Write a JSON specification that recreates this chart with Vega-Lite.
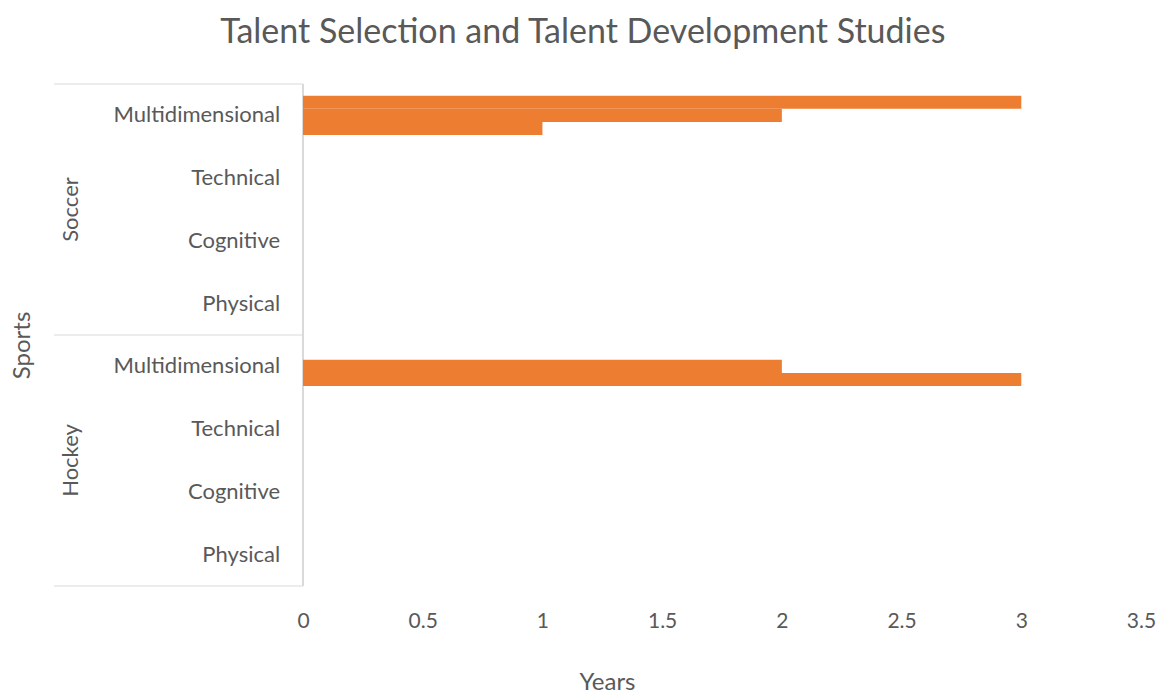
{
  "$schema": "https://vega.github.io/schema/vega-lite/v6.json",
  "padding": {"left": 10, "top": 15, "right": 5, "bottom": 0},
  "background": "white",
  "bounds": "flush",
  "datasets": {
    "categories": [
      {"sport": "Soccer", "type": "Multidimensional", "key": "Soccer|Multidimensional"},
      {"sport": "Soccer", "type": "Technical", "key": "Soccer|Technical"},
      {"sport": "Soccer", "type": "Cognitive", "key": "Soccer|Cognitive"},
      {"sport": "Soccer", "type": "Physical", "key": "Soccer|Physical"},
      {"sport": "Hockey", "type": "Multidimensional", "key": "Hockey|Multidimensional"},
      {"sport": "Hockey", "type": "Technical", "key": "Hockey|Technical"},
      {"sport": "Hockey", "type": "Cognitive", "key": "Hockey|Cognitive"},
      {"sport": "Hockey", "type": "Physical", "key": "Hockey|Physical"}
    ],
    "studies": [
      {"sport": "Soccer", "type": "Multidimensional", "key": "Soccer|Multidimensional", "series": "Series A", "years": 3},
      {"sport": "Soccer", "type": "Multidimensional", "key": "Soccer|Multidimensional", "series": "Series B", "years": 2},
      {"sport": "Soccer", "type": "Multidimensional", "key": "Soccer|Multidimensional", "series": "Series C", "years": 1},
      {"sport": "Hockey", "type": "Multidimensional", "key": "Hockey|Multidimensional", "series": "Series B", "years": 2},
      {"sport": "Hockey", "type": "Multidimensional", "key": "Hockey|Multidimensional", "series": "Series C", "years": 3}
    ]
  },
  "title": {
    "text": "Talent Selection and Talent Development Studies",
    "font": "Lato",
    "fontSize": 34,
    "fontWeight": "normal",
    "color": "#595959",
    "anchor": "middle",
    "frame": "bounds",
    "offset": 34
  },
  "spacing": 0,
  "resolve": {"scale": {"y": "independent", "x": "independent"}},
  "hconcat": [
    {
      "width": 249,
      "height": 502,
      "data": {"name": "categories"},
      "layer": [
        {
          "transform": [{"filter": "datum.type === 'Multidimensional'"}],
          "mark": {"type": "rule", "color": "#d9d9d9", "strokeWidth": 1},
          "encoding": {
            "y": {
              "field": "key",
              "type": "nominal",
              "bandPosition": 0,
              "scale": {
                "domain": ["Soccer|Multidimensional", "Soccer|Technical", "Soccer|Cognitive", "Soccer|Physical", "Hockey|Multidimensional", "Hockey|Technical", "Hockey|Cognitive", "Hockey|Physical"],
                "paddingInner": 0,
                "paddingOuter": 0
              },
              "axis": {
                "title": "Sports",
                "labels": false,
                "ticks": false,
                "domain": false,
                "grid": false,
                "titleFont": "Lato",
                "titleFontSize": 24,
                "titleFontWeight": "normal",
                "titleColor": "#595959",
                "titlePadding": 20,
                "titleY": 261
              }
            },
            "x": {"datum": 0, "type": "quantitative", "scale": {"domain": [0, 1]}, "axis": null},
            "x2": {"datum": 1}
          }
        },
        {
          "transform": [{"filter": "datum.key === 'Hockey|Physical'"}],
          "mark": {"type": "rule", "color": "#d9d9d9", "strokeWidth": 1},
          "encoding": {
            "y": {"field": "key", "type": "nominal", "bandPosition": 1},
            "x": {"datum": 0, "type": "quantitative"},
            "x2": {"datum": 1}
          }
        },
        {
          "mark": {"type": "rule", "color": "#d9d9d9", "strokeWidth": 1},
          "encoding": {
            "x": {"datum": 1, "type": "quantitative"}
          }
        },
        {
          "mark": {"type": "text", "align": "right", "baseline": "middle", "font": "Lato", "fontSize": 22, "color": "#595959"},
          "encoding": {
            "y": {"field": "key", "type": "nominal"},
            "x": {"datum": 0.908, "type": "quantitative"},
            "text": {"field": "type", "type": "nominal"}
          }
        },
        {
          "transform": [{"filter": "datum.type === 'Technical'"}],
          "mark": {"type": "text", "align": "center", "baseline": "middle", "angle": 270, "font": "Lato", "fontSize": 22, "color": "#595959"},
          "encoding": {
            "y": {"field": "key", "type": "nominal", "bandPosition": 1},
            "x": {"datum": 0.068, "type": "quantitative"},
            "text": {"field": "sport", "type": "nominal"}
          }
        }
      ]
    },
    {
      "width": 838,
      "height": 502,
      "data": {"name": "studies"},
      "mark": {"type": "bar", "color": "#ED7D31"},
      "encoding": {
        "y": {
          "field": "key",
          "type": "nominal",
          "scale": {
            "domain": ["Soccer|Multidimensional", "Soccer|Technical", "Soccer|Cognitive", "Soccer|Physical", "Hockey|Multidimensional", "Hockey|Technical", "Hockey|Cognitive", "Hockey|Physical"],
            "paddingInner": 0.378,
            "paddingOuter": 0.189
          },
          "axis": null
        },
        "yOffset": {
          "field": "series",
          "type": "nominal",
          "scale": {"domain": ["Series A", "Series B", "Series C"], "paddingInner": 0, "paddingOuter": 0}
        },
        "x": {
          "field": "years",
          "type": "quantitative",
          "scale": {"domain": [0, 3.5], "nice": false},
          "axis": {
            "values": [0, 0.5, 1, 1.5, 2, 2.5, 3, 3.5],
            "format": "~g",
            "grid": false,
            "domain": false,
            "ticks": false,
            "labelFont": "Lato",
            "labelFontSize": 21,
            "labelColor": "#595959",
            "labelPadding": 24,
            "labelFlush": false,
            "title": "Years",
            "titleFont": "Lato",
            "titleFontSize": 24,
            "titleFontWeight": "normal",
            "titleColor": "#595959",
            "titlePadding": 39,
            "titleX": 304,
            "titleAlign": "center"
          }
        }
      }
    }
  ],
  "config": {"view": {"stroke": null}, "font": "Lato"}
}
